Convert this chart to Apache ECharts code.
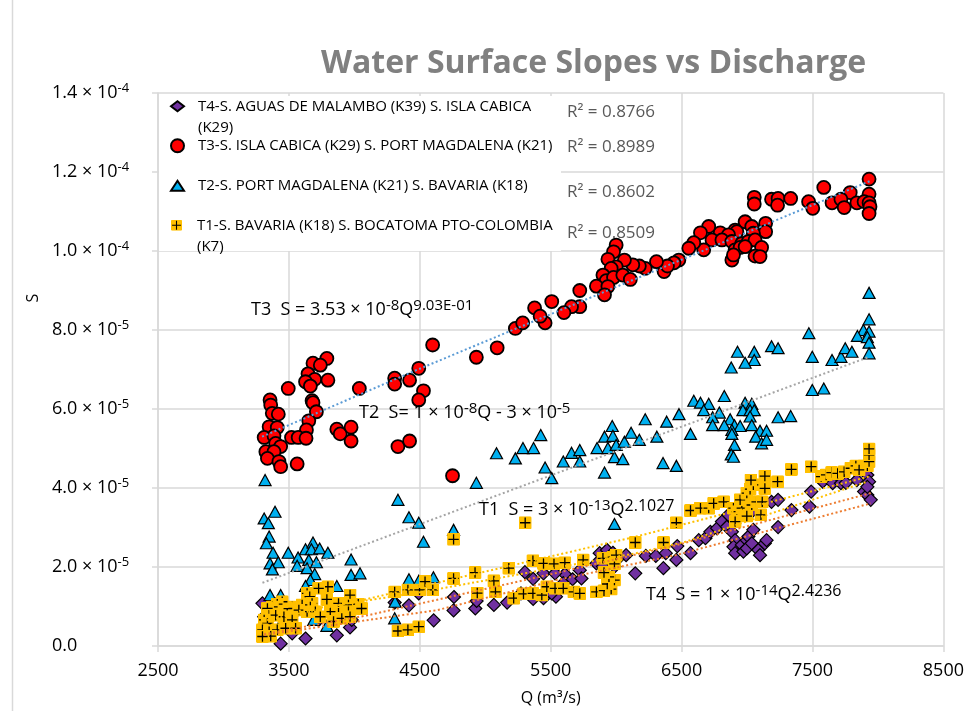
<!DOCTYPE html>
<html><head><meta charset="utf-8">
<script src="https://cdn.jsdelivr.net/npm/echarts@6/dist/echarts.min.js"></script>
<style>html,body{margin:0;padding:0;background:#fff}#c{width:967px;height:711px}</style>
</head><body><div id="c"></div>
<script>
// ---- names ----
const seriesNames = [
  'T4-S. AGUAS DE MALAMBO (K39) S. ISLA CABICA\n(K29)',
  'T3-S. ISLA CABICA (K29) S. PORT MAGDALENA (K21)',
  'T2-S. PORT MAGDALENA (K21) S. BAVARIA (K18)',
  'T1-S. BAVARIA (K18) S. BOCATOMA PTO-COLOMBIA\n(K7)'
];
// ---- data: [Q (m3/s), S (x 1e-5)] ----
const t4Data = [[3298,1.08],[3311,0.74],[3525,0.32],[3627,0.19],[3866,0.27],[3437,0.06],[3967,0.47],[3980,0.66],[4308,1.10],[4417,1.03],[4606,0.65],[4758,0.90],[4761,1.24],[4924,0.95],[4934,1.14],[5066,1.04],[5167,1.10],[4492,1.33],[5273,1.33],[5303,1.87],[5366,1.70],[5445,1.84],[5608,1.82],[5667,1.69],[5366,1.19],[5445,1.21],[5540,1.25],[5533,1.84],[5722,1.92],[5735,1.71],[5596,1.59],[5508,1.33],[5874,2.35],[5930,2.43],[5975,2.36],[5849,2.09],[5899,2.01],[5987,2.01],[6025,2.25],[6076,2.30],[6146,1.84],[6227,2.28],[6303,2.28],[6379,2.35],[6467,2.53],[6361,1.97],[6460,2.18],[6568,2.35],[6631,2.68],[6682,2.73],[6720,2.89],[6771,2.98],[6808,3.15],[6846,3.02],[6884,2.89],[6909,2.68],[6896,2.51],[6909,2.35],[6960,2.56],[6998,2.68],[7010,2.77],[7048,2.94],[6972,2.39],[6998,2.47],[7036,2.60],[7086,2.43],[7099,2.30],[7136,2.60],[7149,2.68],[6858,3.32],[6998,3.40],[7036,3.40],[7187,3.65],[7237,3.70],[7237,3.01],[7339,3.44],[7477,3.53],[7490,3.91],[7578,4.16],[7654,4.12],[7717,4.12],[7755,4.13],[7839,4.20],[7919,4.33],[7932,4.16],[7894,3.91],[7919,3.82],[7945,3.70],[7919,4.03],[3386,0.86],[3500,0.71],[3727,0.66]];
const t3Data = [[3790,7.28],[3684,7.16],[3740,7.11],[3646,6.89],[3697,6.75],[3627,6.69],[3664,6.58],[3798,6.73],[3495,6.52],[4038,6.52],[3356,6.23],[3361,6.10],[3677,6.21],[3684,6.16],[3373,5.89],[3419,5.87],[3710,5.93],[3652,5.70],[3349,5.55],[3411,5.53],[3634,5.47],[3311,5.28],[3386,5.32],[3520,5.28],[3571,5.28],[3631,5.26],[3866,5.49],[3892,5.37],[3975,5.54],[3975,5.19],[3399,5.13],[3437,5.05],[3324,4.92],[3386,4.92],[3336,4.75],[3424,4.67],[3437,4.54],[3563,4.61],[4598,7.62],[4308,6.78],[4308,6.63],[4422,6.73],[4492,7.03],[4528,6.46],[4492,6.23],[4333,5.05],[4422,5.19],[4750,4.31],[4932,7.31],[5091,7.55],[5230,8.04],[5286,8.18],[5377,8.56],[7932,11.82],[7586,11.61],[7788,11.48],[7932,11.44],[7470,11.25],[7502,11.08],[7649,11.22],[7717,11.31],[7742,11.10],[7839,11.22],[7894,11.25],[7932,11.22],[7939,11.12],[7932,10.95],[7055,11.36],[7055,11.19],[7187,11.31],[7237,11.33],[7233,11.16],[7333,11.33],[6985,10.74],[7142,10.70],[7142,10.49],[7036,10.62],[7048,10.45],[6909,10.53],[6922,10.49],[6795,10.46],[6858,10.41],[6707,10.62],[6644,10.46],[6732,10.28],[6808,10.28],[6884,10.24],[6960,10.19],[7010,10.24],[7061,10.28],[6909,10.03],[6947,10.09],[6985,10.11],[7111,10.09],[7061,9.87],[7099,9.86],[6884,9.77],[6896,9.90],[6669,10.03],[6593,10.21],[6555,10.07],[6479,9.77],[6442,9.70],[6366,9.48],[6392,9.62],[6308,9.73],[6222,9.56],[6177,9.62],[6127,9.65],[6063,9.77],[6000,10.15],[5980,9.98],[5937,9.79],[6000,9.60],[5962,9.56],[5899,9.39],[5924,9.25],[5980,9.33],[6051,9.39],[6108,9.28],[5849,9.11],[5937,9.10],[5911,8.89],[5722,9.00],[5722,8.59],[5659,8.59],[5601,8.44],[5508,8.72],[5457,8.18],[5419,8.35]];
const t2Data = [[3318,4.20],[3394,3.40],[3311,3.23],[3343,3.11],[3349,2.77],[3328,2.60],[3379,2.36],[3495,2.36],[3570,2.24],[3627,2.45],[3684,2.62],[3672,2.45],[3735,2.47],[3798,2.36],[3356,2.09],[3419,2.12],[3374,1.94],[3563,2.03],[3652,2.18],[3710,2.12],[3639,1.97],[3697,1.82],[3975,2.19],[3975,1.80],[4043,1.84],[3664,1.67],[3627,1.52],[3866,1.52],[3356,1.29],[3437,1.29],[3411,1.12],[3525,0.91],[3652,1.01],[3886,1.06],[3689,0.66],[3790,0.51],[3432,0.53],[4333,3.70],[4417,3.26],[4492,3.12],[4528,2.64],[4758,2.94],[4932,4.13],[4417,1.69],[4492,1.65],[4604,1.74],[4311,1.12],[4308,0.70],[5086,4.88],[5230,4.75],[5288,5.01],[5369,5.01],[5424,5.34],[5457,4.52],[5508,4.25],[5596,4.67],[5659,4.89],[5722,4.96],[5722,4.67],[5854,5.01],[5911,5.30],[5970,5.57],[5975,5.32],[5937,5.01],[6000,5.09],[6063,5.17],[6114,5.40],[5911,4.39],[5987,4.78],[6051,4.73],[5987,3.09],[7932,8.94],[7932,8.27],[7889,8.00],[7932,7.96],[7843,7.85],[7919,7.82],[7932,7.68],[7932,7.41],[7472,7.92],[7498,7.32],[7649,7.24],[7717,7.32],[7750,7.54],[7801,7.45],[7498,6.48],[7586,6.52],[7187,7.59],[7237,7.54],[6927,7.45],[7055,7.45],[7055,7.24],[6985,7.17],[6879,7.05],[6826,6.33],[6593,6.21],[6644,6.16],[6707,6.13],[6669,5.97],[6788,5.91],[6737,5.79],[6871,5.74],[6737,5.59],[6826,5.59],[6985,6.16],[7036,6.13],[6968,5.97],[7023,5.97],[7055,5.97],[7023,5.81],[6904,5.59],[6947,5.57],[6884,5.47],[7036,5.59],[7099,5.45],[7149,5.45],[7066,5.30],[7111,5.13],[7149,5.22],[6884,5.37],[6904,5.09],[6879,4.85],[6896,4.79],[7237,5.79],[7333,5.82],[6480,5.87],[6386,5.68],[6568,5.37],[6311,5.30],[6222,5.74],[6177,5.22],[6358,4.63],[6460,4.56]];
const t1Data = [[3798,1.50],[3727,1.46],[3967,1.29],[3790,1.18],[3879,1.08],[3955,1.04],[4030,1.06],[4055,0.95],[3955,0.87],[3879,0.83],[3816,0.87],[3639,1.33],[3659,1.25],[3677,1.08],[3664,0.99],[3639,0.87],[3702,0.87],[3601,1.04],[3525,0.99],[3487,0.95],[3576,0.91],[3449,1.12],[3411,1.06],[3374,0.99],[3336,0.95],[3349,0.78],[3399,0.78],[3462,0.74],[3525,0.66],[3311,0.66],[3336,0.57],[3298,0.41],[3349,0.36],[3411,0.41],[3475,0.45],[3551,0.45],[3361,0.25],[3298,0.24],[3841,0.62],[3904,0.70],[3967,0.74],[3740,0.74],[4308,1.37],[4409,1.42],[4498,1.42],[4599,1.42],[4540,1.63],[4758,1.71],[4758,2.70],[4922,1.86],[5066,1.65],[5180,1.97],[4939,1.34],[5078,1.37],[5217,1.21],[5305,3.12],[5364,2.16],[5445,2.09],[5525,2.08],[5608,2.11],[5748,2.18],[5899,2.22],[5975,2.25],[5987,2.08],[6000,2.30],[4333,0.38],[4409,0.41],[4492,0.49],[5292,1.32],[5364,1.33],[5432,1.29],[5470,1.50],[5533,1.46],[5596,1.46],[5677,1.37],[5722,1.33],[5849,1.37],[5907,1.40],[5962,1.44],[5932,1.57],[5987,1.67],[5945,1.75],[5907,1.86],[6146,2.62],[6362,2.62],[6460,3.12],[6568,3.43],[6644,3.49],[6707,3.49],[6745,3.61],[6821,3.65],[6896,3.49],[6922,3.40],[6960,3.49],[6947,3.70],[6998,3.87],[7023,3.97],[7048,4.08],[7030,4.20],[7036,3.57],[7073,3.65],[7116,3.65],[6998,3.29],[7106,3.32],[6909,3.15],[7136,4.30],[7136,3.99],[7233,4.16],[7339,4.47],[7490,4.54],[7566,4.29],[7604,4.33],[7646,4.39],[7692,4.37],[7742,4.41],[7793,4.50],[7831,4.56],[7894,4.56],[7919,4.56],[7932,4.67],[7932,4.84],[7932,4.99],[7856,4.46]];
// ---- trendlines: [Q, S x 1e-5] ----
const trendT3 = [[3295,5.30],[4485,7.00],[6152,9.30],[7939,11.77]];
const trendT2 = [[3298,1.60],[7932,7.32]];
const trendT1a = [[3300,0.63],[4005,1.12],[6152,2.77],[7932,4.29]];
const trendT1b = [[3576,0.89],[4485,1.35],[6152,2.35],[6530,2.64],[7917,4.16]];
const trendT4a = [[3311,0.30],[4106,0.78],[5545,1.85],[6455,2.55],[7945,3.87]];
const trendT4b = [[3311,0.28],[4636,0.91],[5545,1.67],[6455,2.30],[7945,3.61]];
// ---- axis ticks ----
const xTicks = [2500,3500,4500,5500,6500,7500,8500];
const yTickMantissa = ['0.0','2.0','4.0','6.0','8.0','1.0','1.2','1.4'];
const yTickExp = ['','-5','-5','-5','-5','-4','-4','-4'];
const r2Labels = ['R² = 0.8766','R² = 0.8989','R² = 0.8602','R² = 0.8509'];

const FONT = 'Open Sans';
const plusSvg = "<svg xmlns='http://www.w3.org/2000/svg' width='12' height='12'><rect x='0' y='0' width='12' height='12' rx='1.5' fill='#FFC000'/><path d='M6 1.2V10.8M1.2 6H10.8' stroke='#000' stroke-width='1.2'/></svg>";
const plusSymbol = 'image://data:image/svg+xml;charset=utf-8,' + encodeURIComponent(plusSvg);

const chart = echarts.init(document.getElementById('c'), null, {renderer:'canvas'});

function trend(data, color){
  return {type:'line', data:data, showSymbol:false, smooth:false, z:5, silent:true,
    lineStyle:{color:color, width:2, type:[2,2.5]}, animation:false};
}
function legendCfg(name, top, ih, multi){
  return {data:[name], left:170, top:top, orient:'vertical', padding:0, itemWidth:13, itemHeight:ih,
    selectedMode:false,
    formatter: multi ? function(n){ return ' \n' + n; } : null,
    textStyle:{fontFamily:FONT, fontSize:15, color:'#000', lineHeight:21.5, padding:[0,0,0,9]}};
}
const eqRich = {n:{fontFamily:FONT, fontSize:18, color:'#000', lineHeight:24},
                b:{fontFamily:FONT, fontSize:15, color:'#000', verticalAlign:'top', lineHeight:16},
                c:{fontFamily:FONT, fontSize:16, color:'#000', verticalAlign:'top', lineHeight:16}};
function eqText(x, y, t){
  return {type:'text', x:x, y:y, z:10, style:{text:t, rich:eqRich, verticalAlign:'middle', align:'left'}};
}

chart.setOption({
  animation:false,
  textStyle:{fontFamily:FONT},
  title:{text:'Water Surface Slopes vs Discharge', left:316, top:43,
    textStyle:{fontFamily:FONT, fontSize:32, fontWeight:'bold', color:'#808080'}},
  grid:{left:158, right:17, top:93, bottom:65, containLabel:false},
  legend:[
    legendCfg(seriesNames[0], 74, 10, true),
    legendCfg(seriesNames[1], 135, 13, false),
    legendCfg(seriesNames[2], 175, 10, false),
    legendCfg(seriesNames[3], 193, 11, true)
  ],
  xAxis:{type:'value', min:xTicks[0], max:xTicks[xTicks.length-1], interval:1000,
    name:'Q (m³/s)', nameLocation:'middle', nameGap:44,
    nameTextStyle:{fontFamily:FONT, fontSize:16, color:'#000'},
    axisLine:{show:true, lineStyle:{color:'#D9D9D9', width:1.5}},
    axisTick:{show:true, length:6, lineStyle:{color:'#D9D9D9', width:1.5}},
    axisLabel:{fontFamily:FONT, fontSize:18, color:'#000', margin:16, formatter:function(v){return String(v);}},
    splitLine:{show:true, lineStyle:{color:'#D9D9D9', width:1.5}}},
  yAxis:{type:'value', min:0, max:14, interval:2,
    axisLine:{show:true, lineStyle:{color:'#D9D9D9', width:1.5}},
    axisTick:{show:true, length:6, lineStyle:{color:'#D9D9D9', width:1.5}},
    axisLabel:{margin:106, align:'left',
      formatter:function(v){ const i=Math.round(v/2); return yTickExp[i] ? '{m|'+yTickMantissa[i]+' × 10}{e|'+yTickExp[i]+'}' : '{m|'+yTickMantissa[i]+'}'; },
      rich:{m:{fontFamily:FONT, fontSize:18, color:'#000', lineHeight:22}, e:{fontFamily:FONT, fontSize:13, color:'#000', verticalAlign:'top', lineHeight:14}}},
    splitLine:{show:true, lineStyle:{color:'#D9D9D9', width:1.5}}},
  graphic:[
    {type:'line', shape:{x1:12.5, y1:0, x2:12.5, y2:711}, style:{stroke:'#D9D9D9', lineWidth:1.5}, z:0},
    {type:'rect', shape:{x:159, y:96, width:402, height:155}, style:{fill:'#fff'}, z:1, silent:true},
    {type:'text', x:33, y:298, rotation:Math.PI/2, style:{text:'S', fontFamily:FONT, fontSize:16, fill:'#000', align:'center', verticalAlign:'middle'}},
    {type:'text', x:567, y:112, z:10, style:{text:r2Labels[0], fontFamily:FONT, fontSize:17, fill:'#595959', verticalAlign:'middle'}},
    {type:'text', x:567, y:147, z:10, style:{text:r2Labels[1], fontFamily:FONT, fontSize:17, fill:'#595959', verticalAlign:'middle'}},
    {type:'text', x:567, y:192, z:10, style:{text:r2Labels[2], fontFamily:FONT, fontSize:17, fill:'#595959', verticalAlign:'middle'}},
    {type:'text', x:567, y:233, z:10, style:{text:r2Labels[3], fontFamily:FONT, fontSize:17, fill:'#595959', verticalAlign:'middle'}},
    eqText(251, 310, '{n|T3  S = 3.53 × 10}{b|-8}{n|Q}{b|9.03E-01}'),
    eqText(359, 413, '{n|T2  S= 1 × 10}{b|-8}{n|Q - 3 × 10}{b|-5}'),
    eqText(479, 510, '{n|T1  S = 3 × 10}{b|-13}{n|Q}{c|2.1027}'),
    eqText(646, 595, '{n|T4  S = 1 × 10}{b|-14}{n|Q}{c|2.4236}')
  ],
  series:[
    {name:seriesNames[0], type:'scatter', data:t4Data, symbol:'diamond', symbolSize:13, z:2,
      itemStyle:{color:'#7030A0', borderColor:'#000', borderWidth:1.2, opacity:1}},
    {name:seriesNames[1], type:'scatter', data:t3Data, symbol:'circle', symbolSize:13, z:2,
      itemStyle:{color:'#FF0000', borderColor:'#000', borderWidth:1.8, opacity:1}},
    {name:seriesNames[2], type:'scatter', data:t2Data, symbol:'triangle', symbolSize:[12,11], z:2,
      itemStyle:{color:'#00B0F0', borderColor:'#000', borderWidth:1.2, opacity:1}},
    {name:seriesNames[3], type:'scatter', data:t1Data, symbol:plusSymbol, symbolSize:13, z:2,
      itemStyle:{color:'#FFC000', opacity:1}},
    trend(trendT3, '#5B9BD5'),
    trend(trendT2, '#A5A5A5'),
    trend(trendT1a, '#FFC000'),
    trend(trendT1b, '#FFC000'),
    trend(trendT4a, '#ED7D31'),
    trend(trendT4b, '#ED7D31')
  ]
});
</script></body></html>
